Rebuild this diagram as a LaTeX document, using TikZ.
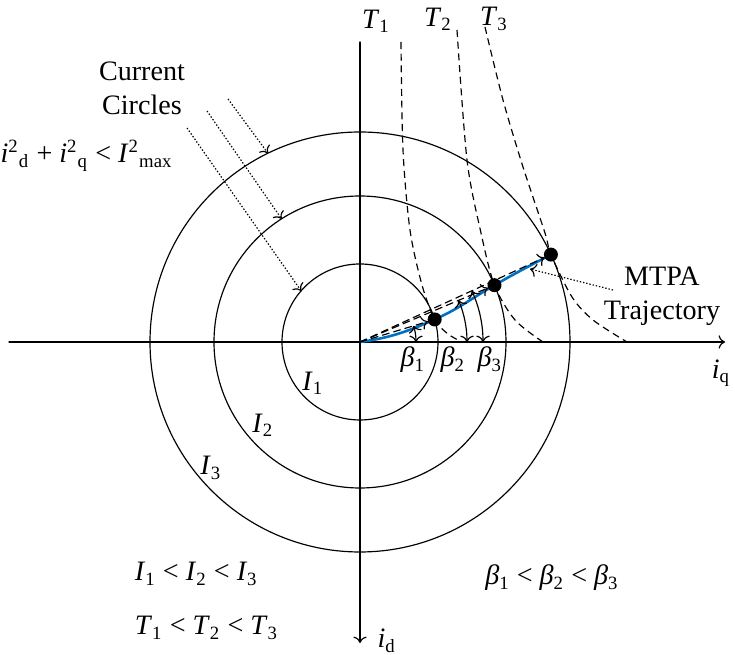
\documentclass[tikz,border=0pt,12pt]{standalone}
\usepackage{fontspec}
\setmainfont{Liberation Serif}
\usetikzlibrary{arrows,calc}
\usepackage{tkz-euclide}
\definecolor{TrajClr}{RGB}{0,112,192}
\newcommand{\vsub}[2]{\textit{#1}\textsubscript{#2}}

\begin{document}
\begin{tikzpicture}[scale=.75,line width=0.5pt,
  torque/.style={dashed,dash pattern=on 3pt off 2pt},
  note/.style={->,dash pattern=on .6pt off .8pt},
  traj/.style={color=TrajClr,line width=1.1pt},
  lbl/.style={inner sep=1pt}]
\tkzSetUpLine[line width=0.5pt,color=black]
\tkzSetUpPoint[fill=black]

\useasboundingbox (-7.2,-6.26) rectangle (7.5,6.84);

\tkzDefPoints{0/0/O,-7.02/0/qL,7.3/0/qR,0/6/dT,0/-6.02/dB}
\tkzDefPoint(16.8:1.56){S1}
\tkzDefPoint(22.9:2.92){S2}
\tkzDefPoint(24.6:4.2){S3}
\tkzDefPoint(116:4.2){e3}
\tkzDefPoint(122.5:2.92){e2}
\tkzDefPoint(139:1.56){e1}
\tkzDefPoints{-2.64/4.86/c3,-3.06/4.62/c2,-3.46/4.28/c1,5.06/1.04/m0,3.4/1.46/m1}

% axes
\tkzDrawSegment[->](qL,qR)
\tkzDrawSegment[->](dT,dB)

% current circles
\draw (O) circle[radius=1.56];
\draw (O) circle[radius=2.92];
\draw (O) circle[radius=4.2];

% torque curves
\draw[torque] plot[smooth] coordinates {(0.82,6.0) (0.86,3.84) (1.0,2.24) (1.24,1.14) (S1) (1.76,0.16) (2.04,0)};
\draw[torque] plot[smooth] coordinates {(1.94,6.24) (2.14,3.64) (2.42,2.18) (S2) (3.1,0.44) (3.66,0)};
\draw[torque] plot[smooth] coordinates {(2.5,6.3) (2.86,4.84) (3.26,3.5) (3.7,2.18) (S3) (4.24,0.9) (4.66,0.44) (5.34,0)};

% MTPA trajectory
\draw[traj] (O) to[out=8,in=204] (S1) to[out=24,in=210] (S2) to[out=30,in=208] (S3);
\tkzDrawSegments[torque,->,shorten >=3pt](O,S1 O,S2 O,S3)

% angles
\draw[<->] (1.12,0) arc[start angle=0,end angle=16.8,radius=1.12];
\draw[<->] (2.14,0) arc[start angle=0,end angle=22.9,radius=2.14];
\draw[<->] (2.46,0) arc[start angle=0,end angle=24.6,radius=2.46];

\foreach \p in {S1,S2,S3}
  \fill (\p) circle[radius=0.14];

% pointers
\draw[note] (c3) -- (e3);
\draw[note] (c2) -- (e2);
\draw[note] (c1) -- (e1);
\draw[note] (m0) -- (m1);

% labels
\node[lbl] (Tl1) at (0.32,6.42) {\vsub{T}{1}};
\node[lbl] (Tl2) at (1.56,6.46) {\vsub{T}{2}};
\node[lbl] (Tl3) at (2.68,6.46) {\vsub{T}{3}};
\node[lbl] (iq) at (7.22,-0.62) {\vsub{i}{q}};
\node[lbl,anchor=base west,inner sep=0pt] (id) at (0.34,-6.12) {\vsub{i}{d}};
\node[lbl] (bl1) at (1.06,-0.36) {\vsub{β}{1}};
\node[lbl] (bl2) at (1.86,-0.36) {\vsub{β}{2}};
\node[lbl] (bl3) at (2.6,-0.36) {\vsub{β}{3}};
\node[lbl] (Il1) at (-0.94,-0.82) {\vsub{I}{1}};
\node[lbl] (Il2) at (-1.94,-1.66) {\vsub{I}{2}};
\node[lbl] (Il3) at (-2.98,-2.52) {\vsub{I}{3}};
\node[lbl,align=center] (cc) at (-4.36,5.08) {Current\\Circles};
\node[anchor=base west,inner sep=0pt] (lim) at (-7.2,3.58) {\textit{i}\textsuperscript{2}\textsubscript{d} + \textit{i}\textsuperscript{2}\textsubscript{q} < \textit{I}\textsuperscript{2}\textsubscript{max}};
\node[lbl,align=center] (mtpa) at (6.04,0.92) {MTPA\\Trajectory};
\node[lbl,anchor=west] (ineqI) at (-4.56,-4.64) {\vsub{I}{1} < \vsub{I}{2} < \vsub{I}{3}};
\node[lbl,anchor=west] (ineqT) at (-4.56,-5.72) {\vsub{T}{1} < \vsub{T}{2} < \vsub{T}{3}};
\node[lbl] (ineqB) at (3.84,-4.72) {\vsub{β}{1} < \vsub{β}{2} < \vsub{β}{3}};

\end{tikzpicture}
\end{document}
